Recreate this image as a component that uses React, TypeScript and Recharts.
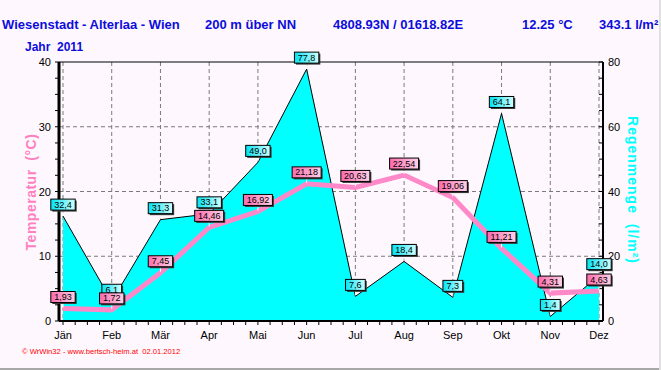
import { ComposedChart, Area, Line, XAxis, YAxis, CartesianGrid, LabelList, ReferenceLine } from "recharts";

const months = ["Jän", "Feb", "Mär", "Apr", "Mai", "Jun", "Jul", "Aug", "Sep", "Okt", "Nov", "Dez"];
const temperature = [1.93, 1.72, 7.45, 14.46, 16.92, 21.18, 20.63, 22.54, 19.06, 11.21, 4.31, 4.63];
const rain = [32.4, 6.1, 31.3, 33.1, 49.0, 77.8, 7.6, 18.4, 7.3, 64.1, 1.4, 14.0];
const tempTicks = [0, 2.5, 5, 7.5, 10, 12.5, 15, 17.5, 20, 22.5, 25, 27.5, 30, 32.5, 35, 37.5, 40];
const rainTicks = [0, 5, 10, 15, 20, 25, 30, 35, 40, 45, 50, 55, 60, 65, 70, 75, 80];

const data = months.map((m, i) => ({ idx: i, month: m, temp: temperature[i], rain: rain[i] }));
const xTicks = Array.from({ length: (months.length - 1) * 4 + 1 }, (_, i) => i / 4);

const font = "'Liberation Sans', Arial, sans-serif";
const blue = "#0c0cdc";

const XTick = (props: any) => {
  const { x, y, payload } = props;
  const v = payload.value;
  return (
    <g>
      <line x1={x} x2={x} y1={y} y2={y + 4} stroke="#000" />
      {Number.isInteger(v) && (
        <text x={x} y={y + 18} textAnchor="middle" fontSize={11} fontFamily={font} fill="#000">
          {months[v]}
        </text>
      )}
    </g>
  );
};

const LeftTick = (props: any) => {
  const { x, y, payload } = props;
  const v = payload.value;
  return (
    <g>
      <line x1={x - 4} x2={x} y1={y} y2={y} stroke="#000" />
      {v % 10 === 0 && (
        <text x={x - 8} y={y + 4} textAnchor="end" fontSize={11} fontFamily={font} fill="#000">
          {v}
        </text>
      )}
    </g>
  );
};

const RightTick = (props: any) => {
  const { x, y, payload } = props;
  const v = payload.value;
  return (
    <g>
      <line x1={x - 4} x2={x} y1={y} y2={y} stroke="#000" />
      {v % 20 === 0 && (
        <text x={x + 5} y={y + 4} textAnchor="start" fontSize={11} fontFamily={font} fill="#000">
          {v}
        </text>
      )}
    </g>
  );
};

const makeTag = (digits: number, grad: string) => (props: any) => {
  const { x, y, value } = props;
  if (value == null) return null;
  const text = Number(value).toFixed(digits).replace(".", ",");
  const w = text.length * 4.6 + 6;
  const h = 11;
  const bx = x - w / 2;
  const by = y - 6 - h;
  return (
    <g>
      <line x1={x} x2={x} y1={by + h} y2={y - 1} stroke="#fff" />
      <rect x={bx + 1.5} y={by + 1.5} width={w} height={h} fill="#3a3a3a" />
      <rect x={bx} y={by} width={w} height={h} fill={`url(#${grad})`} stroke="#000" strokeWidth={1} />
      <text x={x} y={by + 8.5} textAnchor="middle" fontSize={9} fontFamily={font} fill="#000">
        {text}
      </text>
    </g>
  );
};

const RainTag = makeTag(1, "cyanTag");
const TempTag = makeTag(2, "pinkTag");

export default function App() {
  return (
    <div
      style={{
        position: "absolute",
        left: 0,
        top: 0,
        width: 661,
        height: 370,
        background: "#fef8fe",
        fontFamily: font,
        overflow: "hidden",
      }}
    >
      <div style={{ position: "absolute", left: 0, top: 17, width: 661, height: 15, fontSize: 13, fontWeight: "bold", color: blue, lineHeight: "15px", whiteSpace: "nowrap" }}>
        <span style={{ position: "absolute", left: 2 }}>Wiesenstadt - Alterlaa - Wien</span>
        <span style={{ position: "absolute", left: 205 }}>200 m über NN</span>
        <span style={{ position: "absolute", left: 333 }}>4808.93N / 01618.82E</span>
        <span style={{ position: "absolute", left: 522 }}>12.25 °C</span>
        <span style={{ position: "absolute", left: 599 }}>343.1 l/m²</span>
      </div>
      <div style={{ position: "absolute", left: 25, top: 40, fontSize: 12, fontWeight: "bold", color: blue, lineHeight: "14px", whiteSpace: "pre" }}>
        Jahr  2011
      </div>

      <ComposedChart width={661} height={370} data={data} margin={{ top: 62, right: 0, bottom: 0, left: 0 }}>
        <defs>
          <linearGradient id="pinkTag" x1="0" y1="0" x2="1" y2="0">
            <stop offset="0%" stopColor="#ff6aae" />
            <stop offset="100%" stopColor="#ffd0e6" />
          </linearGradient>
          <linearGradient id="cyanTag" x1="0" y1="0" x2="1" y2="0">
            <stop offset="0%" stopColor="#00e4f4" />
            <stop offset="100%" stopColor="#d0ffff" />
          </linearGradient>
        </defs>
        <CartesianGrid
          stroke="#7a7a7a"
          strokeDasharray="4 3"
          horizontalValues={[10, 20, 30]}
          verticalValues={months.map((_, i) => i)}
        />
        <ReferenceLine y={40} stroke="#000" strokeWidth={1} />
        <XAxis
          type="number"
          dataKey="idx"
          domain={[0, months.length - 1]}
          ticks={xTicks}
          interval={0}
          height={49}
          padding={{ left: 4, right: 4 }}
          axisLine={{ stroke: "#000", strokeWidth: 2 }}
          tickLine={false}
          tickSize={0}
          tickMargin={0}
          tick={(p: any) => <XTick {...p} />}
        />
        <YAxis
          domain={[0, 40]}
          ticks={tempTicks}
          interval={0}
          width={59}
          axisLine={{ stroke: "#000", strokeWidth: 3 }}
          tickLine={false}
          tickSize={0}
          tickMargin={0}
          tick={(p: any) => <LeftTick {...p} />}
        />
        <YAxis
          yAxisId="rain"
          orientation="right"
          domain={[0, 80]}
          ticks={rainTicks}
          interval={0}
          width={58}
          axisLine={{ stroke: "#000", strokeWidth: 2 }}
          tickLine={false}
          tickSize={0}
          tickMargin={0}
          tick={(p: any) => <RightTick {...p} />}
        />
        <Area
          yAxisId="rain"
          type="linear"
          dataKey="rain"
          stroke="#000"
          strokeWidth={1}
          fill="#00ffff"
          fillOpacity={1}
          dot={false}
          activeDot={false}
          isAnimationActive={false}
        >
          <LabelList dataKey="rain" content={RainTag} />
        </Area>
        <Line
          type="linear"
          dataKey="temp"
          stroke="#ff88c8"
          strokeWidth={5}
          dot={false}
          activeDot={false}
          isAnimationActive={false}
        >
          <LabelList dataKey="temp" content={TempTag} />
        </Line>
      </ComposedChart>

      <div
        style={{
          position: "absolute",
          left: 31,
          top: 192,
          transform: "translate(-50%, -50%) rotate(-90deg)",
          fontSize: 14,
          fontWeight: "bold",
          color: "#ff80c0",
          letterSpacing: 0.5,
          whiteSpace: "pre",
          lineHeight: "16px",
        }}
      >
        Temperatur  (°C)
      </div>
      <div
        style={{
          position: "absolute",
          left: 633,
          top: 190,
          transform: "translate(-50%, -50%) rotate(90deg)",
          fontSize: 14,
          fontWeight: "bold",
          color: "#00ffff",
          letterSpacing: 1,
          whiteSpace: "pre",
          lineHeight: "16px",
        }}
      >
        Regenmenge  (l/m²)
      </div>
      <div style={{ position: "absolute", left: 22, top: 347, fontSize: 7.6, color: "#ff0000", lineHeight: "9px", whiteSpace: "pre" }}>
        © WrWin32 - www.bertsch-heim.at  02.01.2012
      </div>
      <div style={{ position: "absolute", left: 0, top: 368, width: 661, height: 2, background: "#a8a8a8" }} />
      <div style={{ position: "absolute", left: 659, top: 0, width: 2, height: 370, background: "#e0e0e0" }} />
    </div>
  );
}
